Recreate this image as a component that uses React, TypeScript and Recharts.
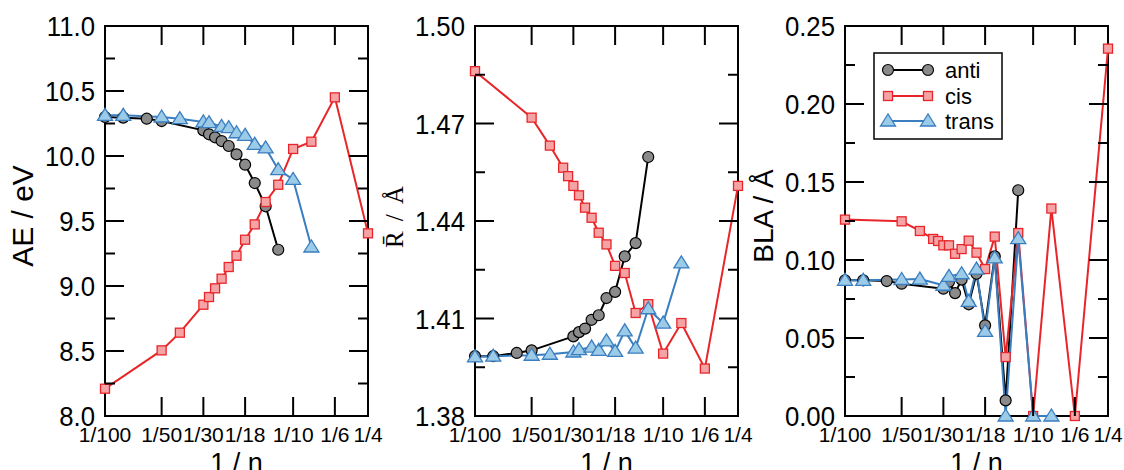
import React from "react";
import { LineChart, Line, XAxis, YAxis, ReferenceArea, Legend } from "recharts";

// x axis: 1/n on a log scale
const X_TICKS = [1 / 100, 1 / 50, 1 / 30, 1 / 18, 1 / 10, 1 / 6, 1 / 4];
const X_TICK_LABELS = ["1/100", "1/50", "1/30", "1/18", "1/10", "1/6", "1/4"];

// chain lengths per series
const ANTI_N = [100, 80, 60, 50, 30, 28, 26, 24, 22, 20, 18, 16, 14, 12];
const CIS_N_AE = [100, 50, 40, 30, 28, 26, 24, 22, 20, 18, 16, 14, 12, 10, 8, 6, 4];
const CIS_N = [100, 50, 40, 34, 32, 30, 28, 26, 24, 22, 20, 18, 16, 14, 12, 10, 8, 6, 4];
const TRANS_N = [100, 80, 50, 40, 30, 28, 24, 22, 20, 18, 16, 14, 12, 10, 8];

// AE / eV
const ANTI_AE = [10.3, 10.295, 10.287, 10.269, 10.197, 10.167, 10.144, 10.115, 10.077, 10.013, 9.933, 9.792, 9.613, 9.279];
const CIS_AE = [8.21, 8.505, 8.641, 8.856, 8.915, 8.982, 9.056, 9.146, 9.233, 9.356, 9.474, 9.646, 9.779, 10.054, 10.11, 10.451, 9.405];
const TRANS_AE = [10.313, 10.313, 10.3, 10.287, 10.262, 10.256, 10.228, 10.218, 10.179, 10.159, 10.09, 10.062, 9.895, 9.82, 9.3];

// mean bond length / Å
const ANTI_R = [1.3984, 1.3984, 1.3994, 1.4002, 1.4045, 1.4058, 1.4069, 1.4096, 1.411, 1.4163, 1.4182, 1.4291, 1.4332, 1.4597];
const CIS_R = [1.4861, 1.4718, 1.4632, 1.4564, 1.4538, 1.4508, 1.4479, 1.4441, 1.441, 1.4364, 1.4328, 1.4262, 1.424, 1.4117, 1.4144, 1.3992, 1.4086, 1.3946, 1.4508];
const TRANS_R = [1.3982, 1.3984, 1.3987, 1.399, 1.3997, 1.4004, 1.4012, 1.4002, 1.4031, 1.3999, 1.4062, 1.4009, 1.413, 1.4086, 1.4271];

// BLA / Å
const ANTI_BLA = [0.087, 0.087, 0.0865, 0.0848, 0.0816, 0.086, 0.0788, 0.0874, 0.0716, 0.0912, 0.0581, 0.1023, 0.01, 0.1447];
const CIS_BLA = [0.1259, 0.1248, 0.1186, 0.1135, 0.1122, 0.1094, 0.1094, 0.104, 0.107, 0.1124, 0.1047, 0.0942, 0.115, 0.0378, 0.1173, 0, 0.133, 0, 0.2355];
const TRANS_BLA = [0.087, 0.087, 0.0875, 0.0878, 0.0838, 0.0895, 0.0912, 0.0735, 0.0942, 0.0543, 0.1013, 0, 0.1137, 0, 0];

// y ticks (every other one labelled)
const AE_TICKS = [8, 8.25, 8.5, 8.75, 9, 9.25, 9.5, 9.75, 10, 10.25, 10.5, 10.75, 11];
const AE_LABELS = ["8.0", "8.5", "9.0", "9.5", "10.0", "10.5", "11.0"];
const R_TICKS = [1.38, 1.395, 1.41, 1.425, 1.44, 1.455, 1.47, 1.485, 1.5];
const R_LABELS = ["1.38", "1.41", "1.44", "1.47", "1.50"];
const BLA_TICKS = [0, 0.025, 0.05, 0.075, 0.1, 0.125, 0.15, 0.175, 0.2, 0.225, 0.25];
const BLA_LABELS = ["0.00", "0.05", "0.10", "0.15", "0.20", "0.25"];

const SANS = "'Liberation Sans', Arial, Helvetica, sans-serif";
const SERIF = "'Liberation Serif', 'Times New Roman', serif";

const CHART_W = 384;
const CHART_H = 470;
const PLOT_LEFT = 105;
const PLOT_TOP = 26;
const PLOT_W = 263;
const PLOT_H = 390;
const Y_GAP = 10;
const MAJOR = 19;
const MINOR = 10;

const SERIES = [
  { name: "anti", color: "#000000", marker: "circle" },
  { name: "cis", color: "#e8262a", marker: "square" },
  { name: "trans", color: "#3a7ec0", marker: "triangle" },
];

const pts = (ns: number[], ys: number[]) => ns.map((n, i) => ({ x: 1 / n, y: ys[i] }));

function Marker({ kind, cx, cy }: { kind: string; cx: number; cy: number }) {
  if (kind === "circle") {
    return <circle cx={cx} cy={cy} r={5.5} fill="#8a8a8a" stroke="#000" strokeWidth={1.2} />;
  }
  if (kind === "square") {
    return <rect x={cx - 4.5} y={cy - 4.5} width={9} height={9} fill="#f5a3a5" stroke="#e8262a" strokeWidth={1.3} />;
  }
  return (
    <polygon
      points={`${cx},${cy - 7} ${cx - 7.5},${cy + 5} ${cx + 7.5},${cy + 5}`}
      fill="#9ccbe8"
      stroke="#3a7ec0"
      strokeWidth={1.3}
    />
  );
}

const dotFor = (kind: string) => (props: any) =>
  <Marker key={`${kind}-${props.index}`} kind={kind} cx={props.cx} cy={props.cy} />;

function XTick(props: any) {
  const { x, y, payload } = props;
  const i = X_TICKS.findIndex((t) => Math.abs(t - payload.value) < 1e-9);
  const inner = i > 0 && i < X_TICKS.length - 1;
  const top = y - PLOT_H;
  return (
    <g>
      {inner && <line x1={x} x2={x} y1={y} y2={y - MAJOR} stroke="#000" strokeWidth={2} />}
      {inner && <line x1={x} x2={x} y1={top} y2={top + MAJOR} stroke="#000" strokeWidth={2} />}
      <text x={x} y={y + 26} textAnchor="middle" fontSize={21} fontFamily={SANS} fill="#000">
        {X_TICK_LABELS[i]}
      </text>
    </g>
  );
}

function YTick(props: any) {
  const { x, y, payload, ticks, labels } = props;
  const i = ticks.findIndex((t: number) => Math.abs(t - payload.value) < 1e-9);
  const major = i % 2 === 0;
  const len = major ? MAJOR : MINOR;
  const left = x + Y_GAP;
  const right = left + PLOT_W;
  const edge = i === 0 || i === ticks.length - 1;
  return (
    <g>
      {!edge && <line x1={left} x2={left + len} y1={y} y2={y} stroke="#000" strokeWidth={2} />}
      {!edge && <line x1={right - len} x2={right} y1={y} y2={y} stroke="#000" strokeWidth={2} />}
      {major && (
        <text
          transform={`translate(${x} ${y}) scale(0.92 1)`}
          dy="0.36em"
          textAnchor="end"
          fontSize={28}
          fontFamily={SANS}
          fill="#000"
        >
          {labels[i / 2]}
        </text>
      )}
    </g>
  );
}

function LegendBox() {
  const rows = [18, 44, 69];
  return (
    <svg width={130} height={88} style={{ display: "block" }}>
      <rect x={1} y={1} width={128} height={86} fill="#fff" stroke="#000" strokeWidth={1.5} />
      {SERIES.map((s, i) => (
        <g key={s.name}>
          <line x1={15} x2={55} y1={rows[i]} y2={rows[i]} stroke={s.color} strokeWidth={2} />
          <Marker kind={s.marker} cx={15} cy={rows[i]} />
          <Marker kind={s.marker} cx={55} cy={rows[i]} />
          <text x={72} y={rows[i]} dy="0.36em" fontSize={22} fontFamily={SANS} fill="#000">
            {s.name}
          </text>
        </g>
      ))}
    </svg>
  );
}

interface PanelProps {
  left: number;
  yTicks: number[];
  yLabels: string[];
  yTitle: React.ReactNode;
  yFont: string;
  yFontSize: number;
  yLetterSpacing?: number;
  data: { x: number; y: number }[][];
  legend?: boolean;
}

function Panel({ left, yTicks, yLabels, yTitle, yFont, yFontSize, yLetterSpacing, data, legend }: PanelProps) {
  const yMin = yTicks[0];
  const yMax = yTicks[yTicks.length - 1];
  const titleY = PLOT_TOP + PLOT_H / 2 - 5;
  return (
    <div style={{ position: "absolute", left, top: 0 }}>
      <LineChart
        width={CHART_W}
        height={CHART_H}
        margin={{ top: PLOT_TOP, right: CHART_W - PLOT_LEFT - PLOT_W, bottom: 0, left: 0 }}
      >
        <XAxis
          type="number"
          dataKey="x"
          scale="log"
          domain={[X_TICKS[0], X_TICKS[X_TICKS.length - 1]]}
          ticks={X_TICKS}
          interval={0}
          height={CHART_H - PLOT_TOP - PLOT_H}
          tickSize={0}
          tickMargin={0}
          axisLine={false}
          tickLine={false}
          tick={(p: any) => <XTick {...p} />}
          label={() => (
            <text
              x={PLOT_LEFT + PLOT_W / 2}
              y={472}
              textAnchor="middle"
              fontSize={27}
              fontFamily={SANS}
              fill="#000"
            >
              1 / n
            </text>
          )}
        />
        <YAxis
          type="number"
          domain={[yMin, yMax]}
          ticks={yTicks}
          interval={0}
          width={PLOT_LEFT}
          tickSize={0}
          tickMargin={Y_GAP}
          axisLine={false}
          tickLine={false}
          tick={(p: any) => <YTick {...p} ticks={yTicks} labels={yLabels} />}
          label={() => (
            <text
              x={33}
              y={titleY}
              transform={`rotate(-90 33 ${titleY})`}
              textAnchor="middle"
              fontSize={yFontSize}
              letterSpacing={yLetterSpacing}
              fontFamily={yFont}
              fill="#000"
            >
              {yTitle}
            </text>
          )}
        />
        <ReferenceArea
          x1={X_TICKS[0]}
          x2={X_TICKS[X_TICKS.length - 1]}
          y1={yMin}
          y2={yMax}
          fill="none"
          fillOpacity={0}
          stroke="#000"
          strokeWidth={2}
          ifOverflow="visible"
        />
        {SERIES.map((s, i) => (
          <Line
            key={s.name}
            name={s.name}
            data={data[i]}
            dataKey="y"
            type="linear"
            stroke={s.color}
            strokeWidth={2}
            dot={dotFor(s.marker)}
            activeDot={false}
            isAnimationActive={false}
          />
        ))}
        {legend && (
          <Legend
            layout="vertical"
            align="center"
            verticalAlign="middle"
            content={() => <LegendBox />}
            wrapperStyle={{ left: 133, top: 52, width: 130, height: 88 }}
          />
        )}
      </LineChart>
    </div>
  );
}

export default function App() {
  return (
    <div style={{ position: "absolute", left: 0, top: 0, width: 1124, height: 470, background: "#fff" }}>
      <Panel
        left={0}
        yTicks={AE_TICKS}
        yLabels={AE_LABELS}
        yTitle="AE / eV"
        yFont={SANS}
        yFontSize={30}
        data={[pts(ANTI_N, ANTI_AE), pts(CIS_N_AE, CIS_AE), pts(TRANS_N, TRANS_AE)]}
      />
      <Panel
        left={370}
        yTicks={R_TICKS}
        yLabels={R_LABELS}
        yTitle={"R\u0304 / Å"}
        yFont={SERIF}
        yFontSize={25}
        yLetterSpacing={2}
        data={[pts(ANTI_N, ANTI_R), pts(CIS_N, CIS_R), pts(TRANS_N, TRANS_R)]}
      />
      <Panel
        left={740}
        yTicks={BLA_TICKS}
        yLabels={BLA_LABELS}
        yTitle="BLA / Å"
        yFont={SANS}
        yFontSize={28}
        data={[pts(ANTI_N, ANTI_BLA), pts(CIS_N, CIS_BLA), pts(TRANS_N, TRANS_BLA)]}
        legend
      />
    </div>
  );
}
